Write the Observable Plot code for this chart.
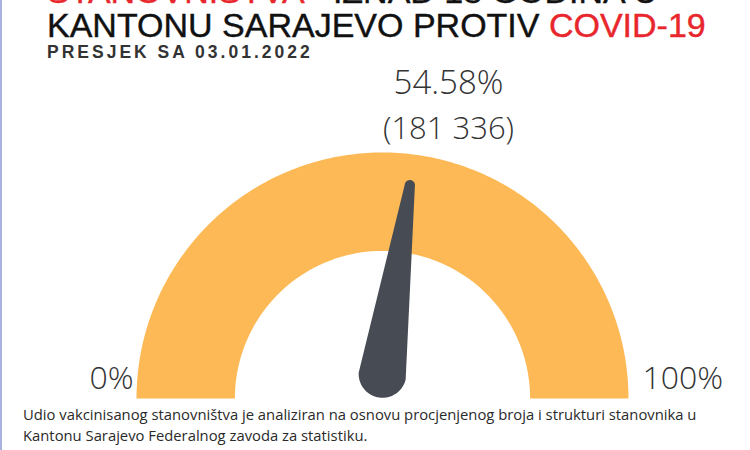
<!DOCTYPE html>
<html>
<head>
<meta charset="utf-8">
<script src="https://cdn.jsdelivr.net/npm/d3@7"></script>
<script src="https://cdn.jsdelivr.net/npm/@observablehq/plot@0.6"></script>
<style>
  body { margin: 0; background: #fff; }
  #page { position: relative; width: 750px; height: 450px; overflow: hidden; background: #fff; }
  .edge { position: absolute; left: 0; top: 0; width: 2px; height: 450px; background: #a9b1de; }
  .t { position: absolute; left: 47px; white-space: nowrap; font-family: "Liberation Sans", Arial, sans-serif; color: #111; }
  .t1, .t2 { font-size: 34px; line-height: 28px; -webkit-text-stroke: 0.4px #111; }
  .t1 { top: -23px; }
  .t2 { top: 11px; }
  .t3 { top: 44px; font-size: 17.5px; line-height: 16px; font-weight: bold; letter-spacing: 3px; color: #333; }
  .red { color: #e8262b; -webkit-text-stroke: 0.4px #e8262b; }
  #chart { position: absolute; left: 0; top: 60px; }
  .cap { position: absolute; left: 23px; top: 404px; font-family: "Open Sans", sans-serif; font-size: 14.8px; line-height: 21px; color: #2a2a2a; white-space: nowrap; }
</style>
</head>
<body>
<div id="page">
  <div class="edge"></div>
  <div class="t t1" id="t1"></div>
  <div class="t t2" id="t2"></div>
  <div class="t t3" id="t3"></div>
  <div id="chart"></div>
  <div class="cap" id="cap"></div>
</div>
<script>
// ---- data ----
const titleLine1 = ["STANOVNIŠTVA", " - IZNAD 18 GODINA U"];
const titleLine2 = ["KANTONU SARAJEVO PROTIV ", "COVID-19"];
const subtitle = "PRESJEK SA 03.01.2022";
const captionLines = [
  "Udio vakcinisanog stanovništva je analiziran na osnovu procjenjenog broja i strukturi stanovnika u",
  "Kantonu Sarajevo Federalnog zavoda za statistiku."
];
const share = [54.58];        // percent vaccinated
const vaccinated = [181336];  // persons
const scaleEnds = [0, 100];
const scaleLabels = ["0%", "100%"];

// ---- header / caption ----
document.getElementById("t1").innerHTML = `<span class="red">${titleLine1[0]}</span>${titleLine1[1]}`;
document.getElementById("t2").innerHTML = `${titleLine2[0]}<span class="red">${titleLine2[1]}</span>`;
document.getElementById("t3").textContent = subtitle;
document.getElementById("cap").innerHTML = captionLines.join("<br>");

// ---- geometry helpers (unit circle gauge) ----
const ang = p => Math.PI * (1 - p / 100);
const rOuter = 1, rInner = 0.6;
const steps = d3.range(scaleEnds[0], scaleEnds[1] + 0.001, 0.5);
const ring = [
  ...steps.map(p => ({x: rOuter * Math.cos(ang(p)), y: rOuter * Math.sin(ang(p))})),
  ...steps.slice().reverse().map(p => ({x: rInner * Math.cos(ang(p)), y: rInner * Math.sin(ang(p))}))
];

// needle: tapered shape between a base circle and a tip circle
const theta = ang(share[0]);
const B = [0, 0.10], rB = 0.097, L = 0.775, rT = 0.021;
const T = [B[0] + L * Math.cos(theta), B[1] + L * Math.sin(theta)];
const a = Math.asin((rB - rT) / L);
const needle = [];
const n = 40;
for (let i = 0; i <= n; i++) {
  const t = theta + (Math.PI / 2 + a) - i * (Math.PI + 2 * a) / n;
  needle.push({x: T[0] + rT * Math.cos(t), y: T[1] + rT * Math.sin(t)});
}
for (let i = 0; i <= n; i++) {
  const t = theta - (Math.PI / 2 + a) - i * (Math.PI - 2 * a) / n;
  needle.push({x: B[0] + rB * Math.cos(t), y: B[1] + rB * Math.sin(t)});
}

const ends = scaleEnds.map((p, i) => ({
  x: rOuter * Math.cos(ang(p)), y: 0, label: scaleLabels[i], anchor: i === 0 ? "end" : "start"
}));

const fmtCount = v => "(" + d3.format(",")(v).replace(/,/g, " ") + ")";
const numFont = {fontFamily: "Open Sans, sans-serif", fontWeight: 300, fill: "#333"};

const chart = Plot.plot({
  width: 750,
  height: 340,
  marginLeft: 136,
  marginRight: 122,
  marginTop: 92,
  marginBottom: 2,
  x: {domain: [-1, 1], axis: null},
  y: {domain: [0, 1], axis: null},
  marks: [
    Plot.line(ring, {x: "x", y: "y", fill: "#fcb955", stroke: "none", curve: "linear"}),
    Plot.line(needle, {x: "x", y: "y", fill: "#474b53", stroke: "none", curve: "linear"}),
    Plot.text(ends.filter(d => d.anchor === "end"), {x: "x", y: "y", text: "label", textAnchor: "end", lineAnchor: "bottom", dx: -3, dy: -10, fontSize: 32, ...numFont}),
    Plot.text(ends.filter(d => d.anchor === "start"), {x: "x", y: "y", text: "label", textAnchor: "start", lineAnchor: "bottom", dx: 14, dy: -10, fontSize: 32, ...numFont}),
    Plot.text(share, {frameAnchor: "top", text: d => d3.format(".2f")(d) + "%", lineAnchor: "bottom", dx: 66, dy: -59, fontSize: 33, ...numFont}),
    Plot.text(vaccinated, {frameAnchor: "top", text: d => fmtCount(d), lineAnchor: "bottom", dx: 66, dy: -14, fontSize: 31, ...numFont})
  ]
});
document.getElementById("chart").appendChild(chart);
</script>
</body>
</html>
